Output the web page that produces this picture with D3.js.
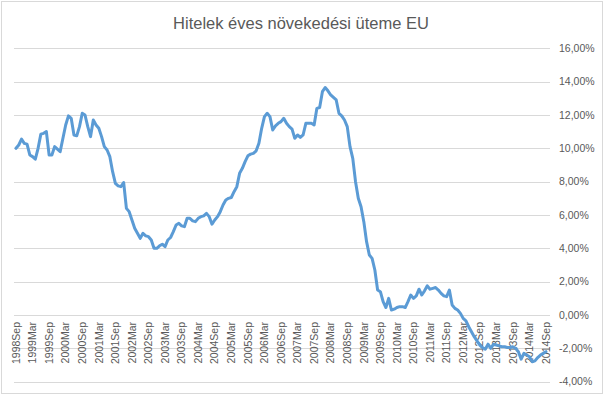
<!DOCTYPE html>
<html>
<head>
<meta charset="utf-8">
<script src="https://cdn.jsdelivr.net/npm/d3@7"></script>
<style>
  body { margin: 0; background: #fff; }
  text { font-family: "Liberation Sans", Arial, sans-serif; fill: #595959; }
</style>
</head>
<body>
<div id="chart"></div>
<script>
// Tick labels, one every 6 months (1998 Sep .. 2014 Sep)
var tickLabels = [
  "1998Sep", "1999Mar", "1999Sep", "2000Mar", "2000Sep", "2001Mar", "2001Sep",
  "2002Mar", "2002Sep", "2003Mar", "2003Sep", "2004Mar", "2004Sep", "2005Mar",
  "2005Sep", "2006Mar", "2006Sep", "2007Mar", "2007Sep", "2008Mar", "2008Sep",
  "2009Mar", "2009Sep", "2010Mar", "2010Sep", "2011Mar", "2011Sep", "2012Mar",
  "2012Sep", "2013Mar", "2013Sep", "2014Mar", "2014Sep"
];

// Monthly growth rate (%), 1998 Sep .. 2014 Sep
var growth = [
  10.0, 10.2, 10.55, 10.3, 10.25, 9.6, 9.5, 9.35, 10.0, 10.85,
  10.9, 11.0, 9.6, 9.6, 10.1, 9.95, 9.8, 10.6, 11.4, 11.95,
  11.8, 10.8, 10.75, 11.3, 12.1, 12.0, 11.3, 10.7, 11.7, 11.4,
  11.2, 10.7, 10.1, 9.9, 9.5, 8.6, 7.9, 7.75, 7.7, 7.95,
  6.4, 6.2, 5.7, 5.2, 4.9, 4.6, 4.9, 4.75, 4.7, 4.5,
  4.0, 4.0, 4.15, 4.25, 4.1, 4.5, 4.65, 5.0, 5.4, 5.5,
  5.35, 5.3, 5.8, 5.8, 5.65, 5.6, 5.8, 5.9, 5.95, 6.1,
  5.9, 5.45, 5.7, 5.9, 6.2, 6.6, 6.9, 7.0, 7.05, 7.4,
  7.7, 8.5, 8.8, 9.2, 9.55, 9.65, 9.7, 9.85, 10.3, 11.2,
  11.9, 12.1, 11.9, 11.1, 11.35, 11.5, 11.6, 11.8, 11.5, 11.3,
  11.15, 10.6, 10.8, 10.65, 10.8, 11.5, 11.5, 11.5, 11.4, 12.4,
  12.45, 13.4, 13.65, 13.45, 13.2, 13.05, 12.9, 12.1, 11.95, 11.7,
  11.3, 10.1, 9.4, 8.0, 7.0, 6.5, 5.6, 4.4, 3.6, 3.4,
  2.7, 1.5, 1.4, 0.8, 0.45, 1.0, 0.3, 0.35, 0.45, 0.5,
  0.5, 0.45, 0.8, 1.2, 1.0, 1.15, 1.55, 1.2, 1.45, 1.75,
  1.55, 1.6, 1.65, 1.5, 1.3, 1.15, 1.1, 1.5, 0.6, 0.4,
  0.3, 0.1, -0.2, -0.35, -0.7, -1.0, -1.3, -1.55, -1.8, -1.95,
  -2.05, -1.75, -2.0, -1.75, -1.8, -1.85, -1.9, -1.9, -1.95, -1.95,
  -1.9, -2.0, -2.2, -2.65, -2.3, -2.4, -2.5, -2.8, -2.75, -2.55,
  -2.4, -2.3, -2.2
];

var yTicks = [-4, -2, 0, 2, 4, 6, 8, 10, 12, 14, 16];

var width = 609, height = 395;

var svg = d3.select("#chart").append("svg")
  .attr("width", width)
  .attr("height", height);

// Chart area border
svg.append("rect")
  .attr("x", 1.5).attr("y", 1.5)
  .attr("width", 601).attr("height", 392)
  .attr("fill", "#fff")
  .attr("stroke", "#d9d9d9");

// Scales
var x = d3.scaleLinear().domain([0, growth.length - 1]).range([16, 546]);
var y = d3.scaleLinear().domain([-4, 16]).range([381.7, 48.3]);

// Gridlines
svg.append("g").selectAll("line")
  .data(yTicks)
  .enter().append("line")
  .attr("x1", 14).attr("x2", 550)
  .attr("y1", function (d) { return Math.round(y(d)) + 0.5; })
  .attr("y2", function (d) { return Math.round(y(d)) + 0.5; })
  .attr("stroke", "#d9d9d9");

// Right axis labels
var fmt = function (d) { return d.toFixed(2).replace(".", ",") + "%"; };
svg.append("g").selectAll("text")
  .data(yTicks)
  .enter().append("text")
  .attr("x", 559)
  .attr("y", function (d) { return y(d); })
  .attr("dy", "0.35em")
  .attr("font-size", "10.5px")
  .text(fmt);

// X labels, rotated
svg.append("g").selectAll("text")
  .data(tickLabels)
  .enter().append("text")
  .attr("transform", function (d, i) {
    return "translate(" + x(i * 6) + ",322) rotate(-90)";
  })
  .attr("text-anchor", "end")
  .attr("dy", "0.35em")
  .attr("font-size", "10.5px")
  .text(function (d) { return d; });

// The line
var line = d3.line()
  .x(function (d, i) { return x(i); })
  .y(function (d) { return y(d); });

svg.append("path")
  .datum(growth)
  .attr("fill", "none")
  .attr("stroke", "#5b9bd5")
  .attr("stroke-width", 3)
  .attr("stroke-linejoin", "round")
  .attr("stroke-linecap", "round")
  .attr("d", line);

// Title
svg.append("text")
  .attr("x", 301)
  .attr("y", 29)
  .attr("text-anchor", "middle")
  .attr("font-size", "16.5px")
  .text("Hitelek éves növekedési üteme EU");
</script>
</body>
</html>
